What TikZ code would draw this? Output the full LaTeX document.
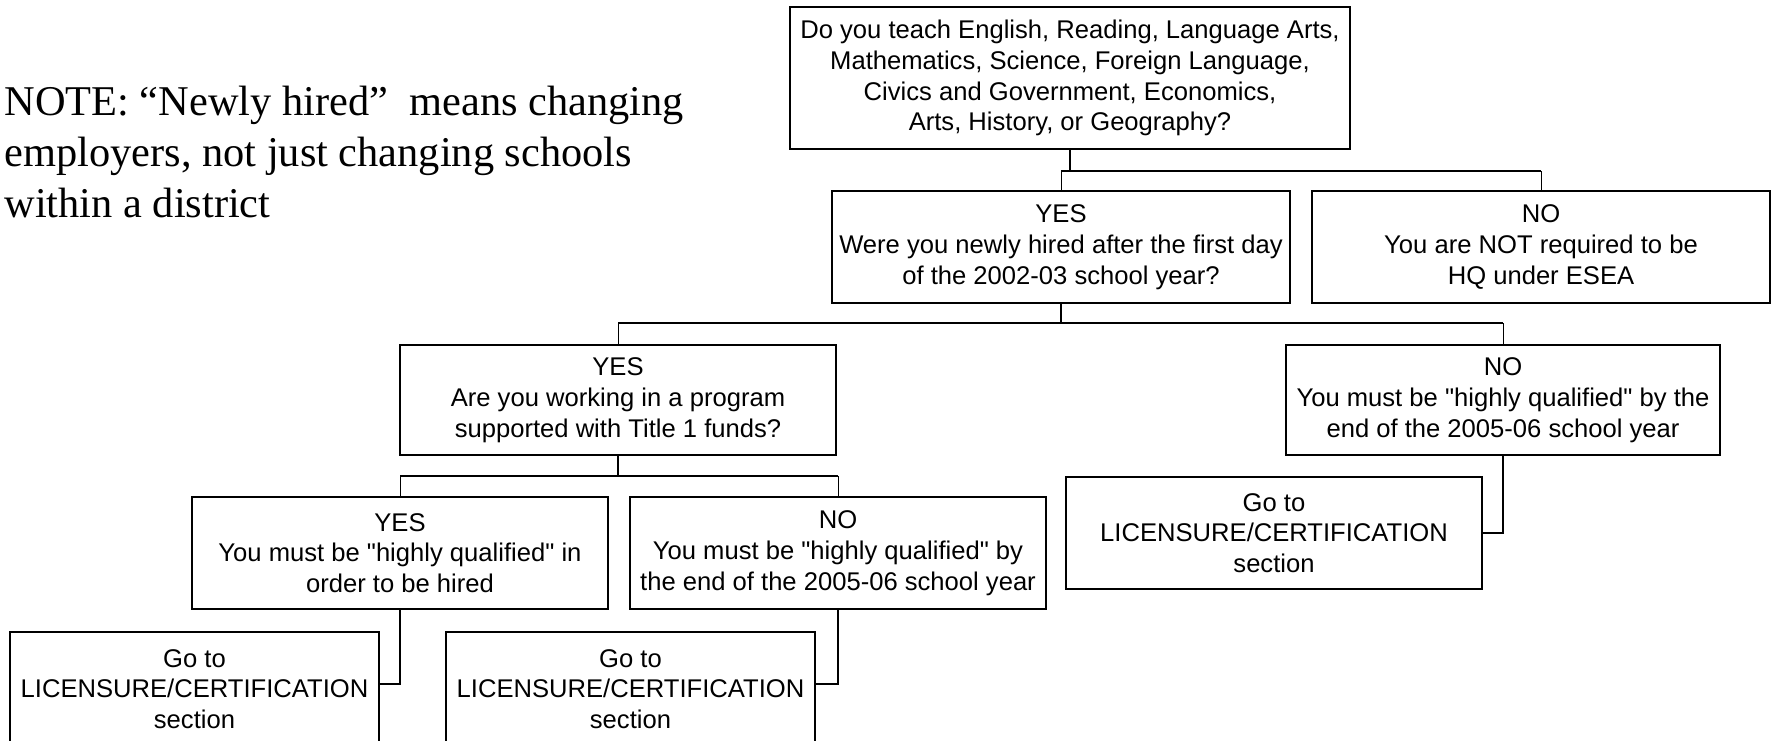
\documentclass[tikz,border=0pt]{standalone}
\usepackage{fontspec}
\setmainfont{Liberation Serif}
\newfontfamily\arialf{Liberation Sans}
\begin{document}
\begin{tikzpicture}[x=0.5pt,y=-0.5pt,
  box/.style={draw, line width=0.9pt, align=center, inner sep=0pt,
    font=\arialf\fontsize{12.8}{15.4}\selectfont},
  stem/.style={line width=0.75pt},
  drop/.style={line width=0.45pt},
  note/.style={align=left, inner sep=0pt, anchor=north west,
    font=\fontsize{21.2}{25.5}\selectfont}]
\useasboundingbox (0,0) rectangle (1773,740);
% note
\node[note] (note) at (4,86) {NOTE: “Newly hired”\ \ means changing\\employers, not just changing schools\\within a district};
% boxes
\node[box, minimum width=280pt, minimum height=71pt] (top) at (1070,78)
  {Do you teach English, Reading, Language Arts,\\Mathematics, Science, Foreign Language,\\Civics and Government, Economics,\\Arts, History, or Geography?};
\node[box, minimum width=229pt, minimum height=56pt] (yes1) at (1061,247)
  {YES\\Were you newly hired after the first day\\of the 2002-03 school year?};
\node[box, minimum width=229pt, minimum height=56pt] (no1) at (1541,247)
  {NO\\You are NOT required to be\\HQ under ESEA};
\node[box, minimum width=218pt, minimum height=55pt] (yes2) at (618,400)
  {YES\\Are you working in a program\\supported with Title 1 funds?};
\node[box, minimum width=217pt, minimum height=55pt] (no2) at (1503,400)
  {NO\\You must be "highly qualified" by the\\end of the 2005-06 school year};
\node[box, minimum width=208pt, minimum height=56pt] (yes3) at (400,553)
  {YES\\You must be "highly qualified" in\\order to be hired};
\node[box, minimum width=208pt, minimum height=56pt] (no3) at (838,553)
  {NO\\You must be "highly qualified" by\\the end of the 2005-06 school year};
\node[box, minimum width=184.5pt, minimum height=57pt] (goto1) at (194.5,689)
  {Go to\\LICENSURE/CERTIFICATION\\section};
\node[box, minimum width=184.5pt, minimum height=57pt] (goto2) at (630.5,689)
  {Go to\\LICENSURE/CERTIFICATION\\section};
\node[box, minimum width=208pt, minimum height=56pt] (goto3) at (1274,533)
  {Go to\\LICENSURE/CERTIFICATION\\section};
% connectors level 1
\coordinate (j1) at (1070,171);
\draw[stem] (top.south) -- (j1);
\draw[stem] (yes1.north |- j1) -- (no1.north |- j1);
\draw[drop] (yes1.north |- j1) -- (yes1.north);
\draw[drop] (no1.north |- j1) -- (no1.north);
% level 2
\coordinate (j2) at (1061,323);
\draw[stem] (yes1.south) -- (j2);
\draw[stem] (yes2.north |- j2) -- (no2.north |- j2);
\draw[drop] (yes2.north |- j2) -- (yes2.north);
\draw[drop] (no2.north |- j2) -- (no2.north);
% level 3
\coordinate (j3) at (618,476);
\draw[stem] (yes2.south) -- (j3);
\draw[stem] (yes3.north |- j3) -- (no3.north |- j3);
\draw[drop] (yes3.north |- j3) -- (yes3.north);
\draw[drop] (no3.north |- j3) -- (no3.north);
% to go-to boxes
\draw[stem] (yes3.south) |- ([yshift=2.5pt]goto1.east);
\draw[stem] (no3.south) |- ([yshift=2.5pt]goto2.east);
\draw[stem] (no2.south) |- (goto3.east);
\end{tikzpicture}
\end{document}
